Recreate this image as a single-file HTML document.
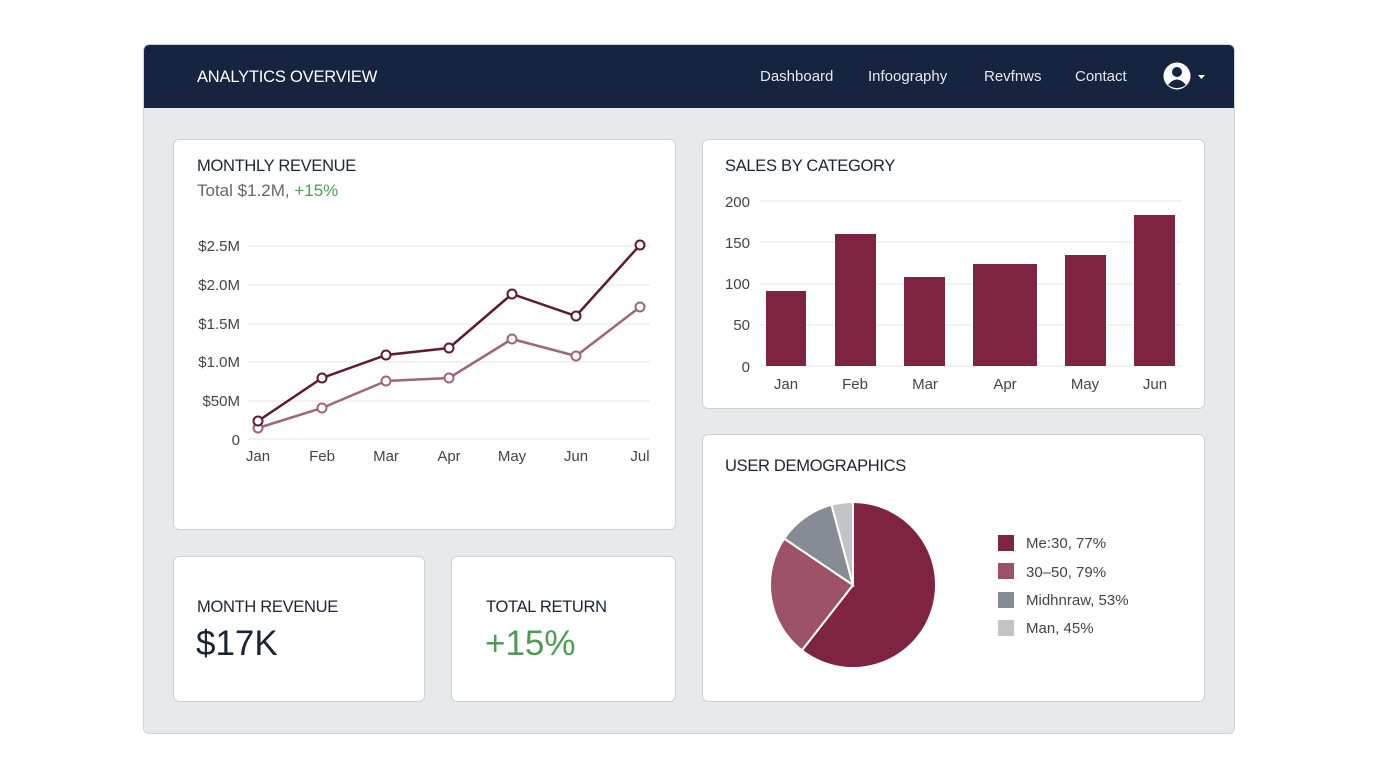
<!DOCTYPE html>
<html><head><meta charset="utf-8"><style>
body{margin:0;width:1376px;height:768px;background:#fff;font-family:"Liberation Sans",sans-serif;overflow:hidden;position:relative}
.frame{position:absolute;left:143px;top:44px;width:1090px;height:688px;background:#e7eaed;border:1px solid #cfd4d9;border-radius:6px;overflow:hidden}
.nav{position:absolute;left:0;top:0;width:1090px;height:63px;background:#16243f;color:#fff}
.card{position:absolute;background:#fff;border:1px solid #cdd2d8;border-radius:6px}
.t{position:absolute;white-space:nowrap}
</style></head><body>
<div class="frame">
<div class="nav">
<div class="t" style="left:53px;top:23px;font-size:16.5px;letter-spacing:-0.2px">ANALYTICS OVERVIEW</div>
<div class="t" style="left:616px;top:23px;font-size:15px;color:#e6e9ee">Dashboard</div>
<div class="t" style="left:724px;top:23px;font-size:15px;color:#e6e9ee">Infoography</div>
<div class="t" style="left:840px;top:23px;font-size:15px;color:#e6e9ee">Revfnws</div>
<div class="t" style="left:931px;top:23px;font-size:15px;color:#e6e9ee">Contact</div>
<svg style="position:absolute;left:1018px;top:16px" width="50" height="32"><circle cx="15" cy="15" r="13.5" fill="#fff"/><circle cx="15" cy="11" r="5" fill="#16243f"/><path d="M6 24 Q15 13 24 24 Q15 30 6 24Z" fill="#16243f"/><path d="M36 14 L43 14 L39.5 18Z" fill="#fff"/></svg>
</div>
</div>
<div class="card" style="left:173px;top:139px;width:501px;height:389px"></div>
<div class="card" style="left:702px;top:139px;width:501px;height:268px"></div>
<div class="card" style="left:702px;top:434px;width:501px;height:266px"></div>
<div class="card" style="left:173px;top:556px;width:250px;height:144px"></div>
<div class="card" style="left:451px;top:556px;width:223px;height:144px"></div>
<div class="t" style="left:197px;top:157px;font-size:16.5px;letter-spacing:-0.3px;color:#1c2433">MONTHLY REVENUE</div>
<div class="t" style="left:197px;top:181px;font-size:17px;color:#666">Total $1.2M, <span style="color:#4f9a55">+15%</span></div>
<div class="t" style="left:725px;top:157px;font-size:16.5px;letter-spacing:-0.3px;color:#1c2433">SALES BY CATEGORY</div>
<div class="t" style="left:725px;top:457px;font-size:16.5px;letter-spacing:-0.3px;color:#1c2433">USER DEMOGRAPHICS</div>
<div class="t" style="left:197px;top:598px;font-size:16.5px;letter-spacing:-0.3px;color:#1c2433">MONTH REVENUE</div>
<div class="t" style="left:196px;top:624px;font-size:35px;color:#1c2433">$17K</div>
<div class="t" style="left:486px;top:598px;font-size:16.5px;letter-spacing:-0.3px;color:#1c2433">TOTAL RETURN</div>
<div class="t" style="left:485px;top:624px;font-size:35px;color:#4f9a55">+15%</div>
<svg style="position:absolute;left:0;top:0" width="1376" height="768" font-family="Liberation Sans, sans-serif">
<g stroke="#e3e5e8" stroke-width="1">
<line x1="248" x2="650" y1="246" y2="246"/><line x1="248" x2="650" y1="285" y2="285"/><line x1="248" x2="650" y1="324" y2="324"/><line x1="248" x2="650" y1="362" y2="362"/><line x1="248" x2="650" y1="401" y2="401"/><line x1="248" x2="650" y1="439" y2="439"/>
<line x1="760" x2="1182" y1="201" y2="201"/><line x1="760" x2="1182" y1="242" y2="242"/><line x1="760" x2="1182" y1="284" y2="284"/><line x1="760" x2="1182" y1="325" y2="325"/><line x1="760" x2="1182" y1="366" y2="366"/>
</g>
<g font-size="15" fill="#444" text-anchor="end">
<text x="240" y="251">$2.5M</text><text x="240" y="290">$2.0M</text><text x="240" y="329">$1.5M</text><text x="240" y="367">$1.0M</text><text x="240" y="406">$50M</text><text x="240" y="445">0</text>
<text x="750" y="207">200</text><text x="750" y="248">150</text><text x="750" y="289">100</text><text x="750" y="330">50</text><text x="750" y="372">0</text>
</g>
<g font-size="15" fill="#444" text-anchor="middle">
<text x="258" y="461">Jan</text><text x="322" y="461">Feb</text><text x="386" y="461">Mar</text><text x="449" y="461">Apr</text><text x="512" y="461">May</text><text x="576" y="461">Jun</text><text x="640" y="461">Jul</text>
<text x="786" y="389">Jan</text><text x="855" y="389">Feb</text><text x="925" y="389">Mar</text><text x="1005" y="389">Apr</text><text x="1085" y="389">May</text><text x="1155" y="389">Jun</text>
</g>
<polyline fill="none" stroke="#a06478" stroke-width="2.5" points="258,428 322,408 386,381 449,378 512,339 576,356 640,307"/>
<polyline fill="none" stroke="#5e1a35" stroke-width="2.5" points="258,421 322,378 386,355 449,348 512,294 576,316 640,245"/>
<g fill="#fff" stroke="#a06478" stroke-width="2"><circle cx="258" cy="428" r="4.5"/><circle cx="322" cy="408" r="4.5"/><circle cx="386" cy="381" r="4.5"/><circle cx="449" cy="378" r="4.5"/><circle cx="512" cy="339" r="4.5"/><circle cx="576" cy="356" r="4.5"/><circle cx="640" cy="307" r="4.5"/></g>
<g fill="#fff" stroke="#5e1a35" stroke-width="2"><circle cx="258" cy="421" r="4.5"/><circle cx="322" cy="378" r="4.5"/><circle cx="386" cy="355" r="4.5"/><circle cx="449" cy="348" r="4.5"/><circle cx="512" cy="294" r="4.5"/><circle cx="576" cy="316" r="4.5"/><circle cx="640" cy="245" r="4.5"/></g>
<g fill="#7e2340">
<rect x="766" y="291" width="40" height="75"/><rect x="835" y="234" width="41" height="132"/><rect x="904" y="277" width="41" height="89"/><rect x="973" y="264" width="64" height="102"/><rect x="1065" y="255" width="41" height="111"/><rect x="1134" y="215" width="41" height="151"/>
</g>
<g stroke="#fff" stroke-width="2">
<path d="M853 585 L853 502 A83 83 0 1 1 801.9 650.4Z" fill="#7e2340"/>
<path d="M853 585 L801.9 650.4 A83 83 0 0 1 784.2 538.6Z" fill="#9c5367"/>
<path d="M853 585 L784.2 538.6 A83 83 0 0 1 831.5 504.8Z" fill="#878c94"/>
<path d="M853 585 L831.5 504.8 A83 83 0 0 1 853 502Z" fill="#c2c3c6"/>
</g>
<rect x="998" y="535" width="16" height="16" fill="#7e2340"/><rect x="998" y="563" width="16" height="16" fill="#9c5367"/><rect x="998" y="592" width="16" height="16" fill="#878c94"/><rect x="998" y="620" width="16" height="16" fill="#c2c3c6"/>
<g font-size="15" fill="#444"><text x="1026" y="548">Me:30, 77%</text><text x="1026" y="577">30–50, 79%</text><text x="1026" y="605">Midhnraw, 53%</text><text x="1026" y="633">Man, 45%</text></g>
</svg>
</body></html>
